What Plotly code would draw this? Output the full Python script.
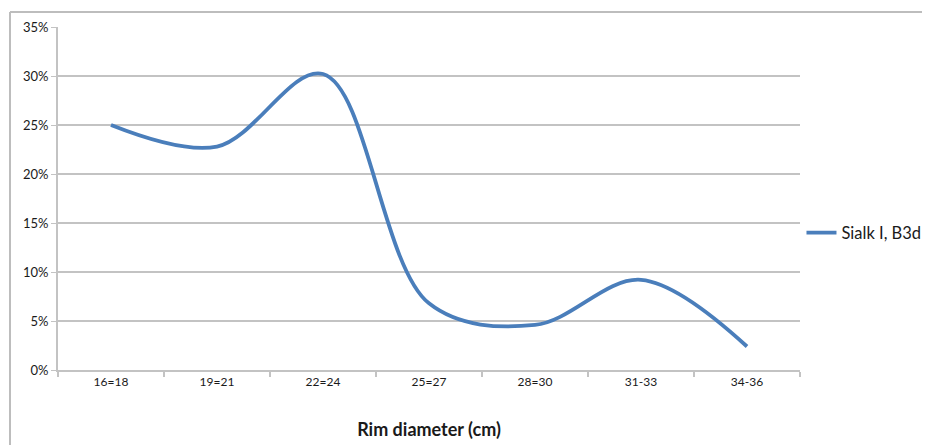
import plotly.graph_objects as go

categories = ['16=18', '19=21', '22=24', '25=27', '28=30', '31-33', '34-36']
sialk_b3d = [0.25, 0.228, 0.302, 0.068, 0.046, 0.092, 0.024]
y_ticks = [0, 0.05, 0.10, 0.15, 0.20, 0.25, 0.30, 0.35]
y_tick_labels = ['0%', '5%', '10%', '15%', '20%', '25%', '30%', '35%']

FONT = "Lato, 'Open Sans', sans-serif"
GRID = '#c3c3c3'

# page body adds an 8px margin, so the figure is sized to the visible area
W, H = 922, 437
L, T, R, B = 50, 19, 130, 75
pw, ph = W - L - R, H - T - B

fig = go.Figure()
fig.add_trace(go.Scatter(
    x=categories, y=sialk_b3d,
    name="Sialk I, B3d",
    mode='lines',
    line=dict(color='#4a7ebb', width=3.8, shape='spline', smoothing=1.0)
))

fig.update_layout(
    width=W, height=H,
    margin=dict(l=L, r=R, t=T, b=B, autoexpand=False),
    paper_bgcolor='white', plot_bgcolor='white',
    font=dict(family=FONT, size=12, color='#1a1a1a'),
    showlegend=True,
    legend=dict(x=1.002, y=0.4, xanchor='left', yanchor='middle',
                font=dict(size=16.5, color='#1a1a1a'), bgcolor='rgba(0,0,0,0)',
                itemwidth=30),
    xaxis=dict(
        type='category', showgrid=False, showline=True, linecolor=GRID, linewidth=2,
        ticks='outside', tickson='boundaries', ticklen=5, tickcolor=GRID, tickwidth=1.5,
        tickfont=dict(size=12), automargin=False,
        title=dict(text='<b>Rim diameter (cm)</b>', font=dict(size=18), standoff=35),
        range=[-0.5, 6.5],
    ),
    yaxis=dict(
        range=[0, 0.35], tickvals=y_ticks, ticktext=y_tick_labels,
        showgrid=True, gridcolor=GRID, gridwidth=1.5,
        showline=True, linecolor=GRID, linewidth=2,
        ticks='outside', ticklen=5, tickcolor=GRID,
        tickfont=dict(size=13), zeroline=False, automargin=False,
    ),
)

# outer chart frame (top and left edges visible)
fx = (2 - L) / pw
fy = (ph + T - 4) / ph
fig.add_shape(type='line', xref='paper', yref='paper',
              x0=fx, x1=1.3, y0=fy, y1=fy,
              line=dict(color='#bdbdbd', width=2))
fig.add_shape(type='line', xref='paper', yref='paper',
              x0=fx, x1=fx, y0=fy, y1=-0.3,
              line=dict(color='#bdbdbd', width=2))

fig.write_html("out.html")
